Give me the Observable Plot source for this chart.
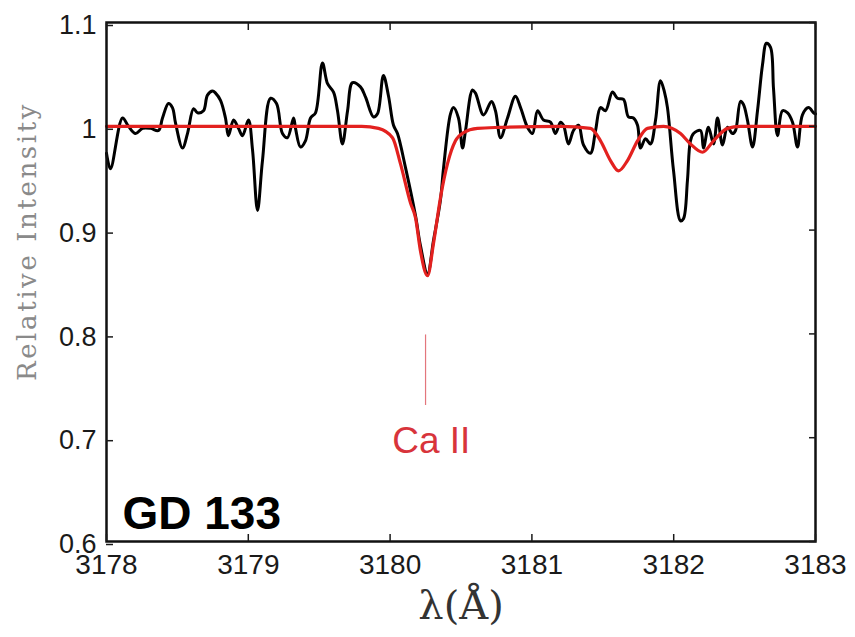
<!DOCTYPE html>
<html><head><meta charset="utf-8">
<script src="https://cdn.jsdelivr.net/npm/d3@7"></script>
<script src="https://cdn.jsdelivr.net/npm/@observablehq/plot@0.6"></script>
<style>html,body{margin:0;padding:0;background:#fff;}#chart{width:855px;height:637px;}</style>
</head><body><div id="chart"></div>
<script>
// Observed spectrum (black)
const wavelength = [
  3178.000,3178.028,3178.113,3178.155,3178.205,3178.254,3178.310,3178.367,3178.395,3178.437,
  3178.465,3178.487,3178.536,3178.571,3178.614,3178.642,3178.684,3178.712,3178.748,3178.769,
  3178.804,3178.839,3178.860,3178.896,3178.931,3178.959,3179.001,3179.030,3179.065,3179.100,
  3179.157,3179.199,3179.241,3179.276,3179.319,3179.333,3179.368,3179.403,3179.439,3179.474,
  3179.523,3179.559,3179.601,3179.629,3179.664,3179.700,3179.735,3179.791,3179.827,3179.883,
  3179.911,3179.953,3179.989,3180.024,3180.052,3180.109,3180.179,3180.214,3180.264,3180.306,
  3180.355,3180.377,3180.426,3180.447,3180.482,3180.511,3180.532,3180.581,3180.602,3180.659,
  3180.715,3180.743,3180.779,3180.828,3180.884,3180.920,3180.969,3181.004,3181.040,3181.082,
  3181.131,3181.166,3181.202,3181.223,3181.258,3181.293,3181.329,3181.364,3181.413,3181.449,
  3181.484,3181.519,3181.568,3181.604,3181.646,3181.681,3181.716,3181.745,3181.766,3181.801,
  3181.836,3181.872,3181.907,3181.935,3181.956,3181.999,3182.048,3182.069,3182.097,3182.118,
  3182.140,3182.189,3182.210,3182.245,3182.281,3182.309,3182.344,3182.379,3182.415,3182.436,
  3182.471,3182.492,3182.520,3182.556,3182.591,3182.626,3182.654,3182.683,3182.704,3182.732,
  3182.767,3182.803,3182.838,3182.873,3182.908,3182.951,3182.986,3183.000
];
const intensity = [
  0.974,0.959,1.008,1.000,0.993,0.998,0.998,0.996,1.008,1.022,
  1.018,1.003,0.979,0.993,1.017,1.013,1.015,1.030,1.034,1.032,
  1.025,1.008,0.991,1.006,0.998,0.991,1.006,0.977,0.919,0.967,
  1.027,1.022,0.993,0.989,1.008,0.998,0.980,0.986,1.008,1.013,
  1.061,1.041,1.033,1.015,0.983,1.015,1.042,1.038,1.028,1.009,
  1.012,1.049,1.029,1.001,0.993,0.960,0.914,0.885,0.858,0.890,
  0.929,0.960,1.012,1.018,1.008,0.979,0.996,1.035,1.032,1.011,
  1.024,1.015,0.989,1.008,1.029,1.018,0.999,0.993,1.015,1.006,
  1.004,0.993,1.004,1.001,0.983,0.996,1.001,0.982,0.974,0.996,
  1.018,1.015,1.033,1.027,1.026,1.009,1.008,1.001,0.979,0.988,
  0.983,1.006,1.044,1.033,1.018,0.957,0.909,0.911,0.948,0.986,
  0.993,0.996,0.979,0.999,0.983,1.008,0.982,0.999,0.993,0.996,
  1.024,1.021,1.006,0.980,1.015,1.059,1.080,1.076,1.036,0.991,
  1.015,1.013,1.004,0.980,1.011,1.018,1.013,1.012
];
// Model spectrum (red)
const modelWavelength = [
  3178.000,3179.800,3179.918,3180.017,3180.073,3180.144,3180.179,3180.214,3180.264,3180.306,
  3180.355,3180.405,3180.461,3180.518,3180.616,3180.779,3181.202,3181.413,3181.484,3181.554,
  3181.611,3181.674,3181.745,3181.815,3181.928,3182.048,3182.118,3182.203,3182.281,3182.379,
  3182.471,3183.000
];
const modelIntensity = [
  1.000,1.000,0.998,0.989,0.964,0.926,0.912,0.880,0.856,0.887,
  0.931,0.964,0.986,0.994,0.998,0.999,1.000,0.998,0.986,0.967,
  0.957,0.967,0.986,0.998,1.000,0.993,0.983,0.975,0.986,0.998,
  1.000,1.000
];
const xTicks = [3178, 3179, 3180, 3181, 3182, 3183];
const xTickLabels = ["3178", "3179", "3180", "3181", "3182", "3183"];
const yTicks = [0.6, 0.7, 0.8, 0.9, 1.0, 1.1];
const yTickLabels = ["0.6", "0.7", "0.8", "0.9", "1", "1.1"];
const lineName = "Ca II";
const lineWavelength = [3180.25];
const lineMarkerRange = [0.731, 0.799];
const lineNamePos = [3180.29, 0.697];
const starName = "GD 133";
const xLabel = "λ(Å)";
const yLabel = "Relative Intensity";
const yLabelPos = 0.889;

const observed = wavelength.map((w, i) => ({w, v: intensity[i]}));
const model = modelWavelength.map((w, i) => ({w, v: modelIntensity[i]}));

const chart = Plot.plot({
  width: 855, height: 637,
  marginLeft: 106, marginRight: 40, marginTop: 22, marginBottom: 96,
  style: {fontFamily: "Liberation Sans, Arial, sans-serif", background: "#fff", color: "#1a1a1a"},
  x: {domain: [3178, 3183], axis: null},
  y: {domain: [0.6, 1.1], axis: null},
  marks: [
    Plot.line(observed, {x: "w", y: "v", stroke: "#000", strokeWidth: 3, strokeLinejoin: "round", curve: "catmull-rom"}),
    Plot.line(model, {x: "w", y: "v", stroke: "#e3211f", strokeWidth: 3.2, curve: "monotone-x"}),
    Plot.ruleX(lineWavelength, {x: d => d, y1: lineMarkerRange[0], y2: lineMarkerRange[1], stroke: "#e3767c", strokeWidth: 1.2}),
    Plot.text([lineName], {x: lineNamePos[0], y: lineNamePos[1], text: d => d, fill: "#d8343b", fontSize: 37, lineAnchor: "middle"}),
    Plot.text([starName], {frameAnchor: "bottom-left", dx: 16, dy: -13, text: d => d, fontSize: 46, fontWeight: "bold", textAnchor: "start", lineAnchor: "bottom", fill: "#000"}),
    Plot.frame({stroke: "#111", strokeWidth: 2.5}),
    Plot.axisX({ticks: xTicks, tickSize: -7, tickPadding: 20, tickFormat: d => xTickLabels[xTicks.indexOf(d)], fontSize: 28, label: null, strokeWidth: 1.5}),
    Plot.axisX({anchor: "top", ticks: xTicks, tickSize: -7, tickFormat: () => "", label: null, strokeWidth: 1.5}),
    Plot.axisY({ticks: yTicks, tickSize: -7, tickPadding: 17, dy: 3, tickFormat: d => yTickLabels[yTicks.indexOf(d)], fontSize: 27, label: null, strokeWidth: 1.5}),
    Plot.axisY({anchor: "right", ticks: yTicks, tickSize: -7, tickFormat: () => "", label: null, strokeWidth: 1.5}),
    Plot.text([yLabel], {frameAnchor: "left", y: yLabelPos, dx: -79, rotate: -90, text: d => d, fontFamily: "DejaVu Serif", fontSize: 26, fill: "#8a8a8a", textAnchor: "middle", lineAnchor: "middle"}),
    Plot.text([xLabel], {frameAnchor: "bottom", dy: 65, text: d => d, fontFamily: "DejaVu Serif", fontSize: 40, fill: "#333", lineAnchor: "middle"})
  ]
});
document.getElementById("chart").appendChild(chart);
d3.select(chart).selectAll("text").filter(function() { return this.textContent === yLabel; })
  .style("letter-spacing", "2.6px");
</script>
</body></html>
